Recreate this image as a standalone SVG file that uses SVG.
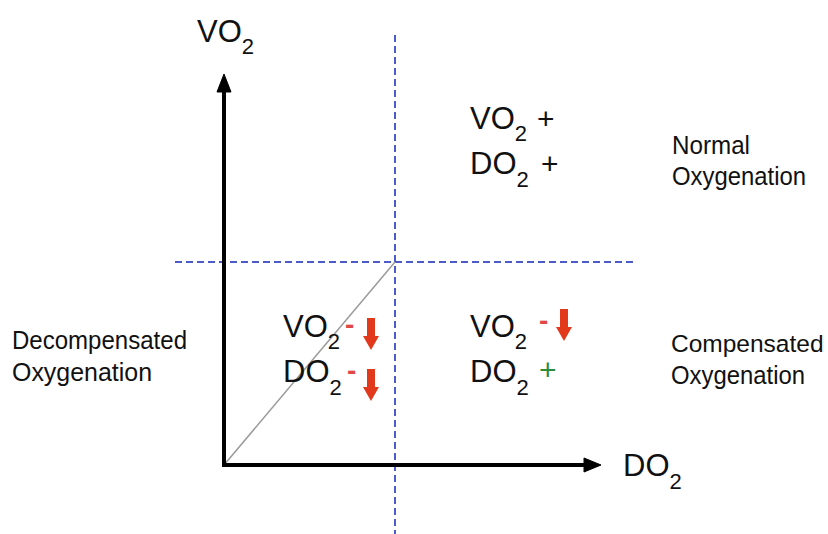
<svg xmlns="http://www.w3.org/2000/svg" width="828" height="534" viewBox="0 0 828 534">
<style>
.t{font-family:"Liberation Sans",Arial,sans-serif;fill:#111}
.big{font-size:31px}
.sub{font-size:22px}
.lbl{font-size:26px}
.dash{stroke:#4b5bc9;stroke-width:2;stroke-dasharray:7 4;fill:none}
.axis{stroke:#000;stroke-width:4;fill:none}
.red{fill:#e2381c}
.minus{fill:#e04848;font-size:28px;font-weight:bold}
.plus{font-size:30px}
</style>
<defs>
<path id="rarrow" d="M-4,0 H4 V18 H8 L0,32 L-8,18 H-4 Z"/>
</defs>
<rect width="828" height="534" fill="#fff"/>
<g id="connectors">
<line class="dash" x1="175" y1="262" x2="636" y2="262"/>
<line class="dash" x1="395" y1="35" x2="395" y2="534"/>
<line x1="224" y1="465" x2="395" y2="262" stroke="#9a9a9a" stroke-width="1.5"/>
<path class="axis" d="M224,467 V82"/>
<path d="M224,74 L217,92 L231,92 Z" fill="#000" stroke="#000" stroke-width="1"/>
<path class="axis" d="M222,465 H592"/>
<path d="M601,465 L584,458 L584,472 Z" fill="#000" stroke="#000" stroke-width="1"/>
</g>
<g id="axis-y-label"><text class="t big" x="197" y="42">VO<tspan class="sub" dy="12">2</tspan></text></g>
<g id="axis-x-label"><text class="t big" x="623" y="476">DO<tspan class="sub" dy="13">2</tspan></text></g>
<g id="quadrant-normal">
<text class="t big" x="470" y="129">VO<tspan class="sub" dy="12">2</tspan></text>
<text class="t plus" x="537" y="129">+</text>
<text class="t big" x="470" y="174">DO<tspan class="sub" dy="13">2</tspan></text>
<text class="t plus" x="541" y="174">+</text>
</g>
<g id="quadrant-decompensated">
<text class="t big" x="283" y="337">VO<tspan class="sub" dy="12">2</tspan></text>
<text class="t minus" x="345" y="334">-</text>
<use href="#rarrow" class="red" x="371" y="318"/>
<text class="t big" x="283" y="382">DO<tspan class="sub" dy="13">2</tspan></text>
<text class="t minus" x="347" y="380">-</text>
<use href="#rarrow" class="red" x="371" y="369"/>
</g>
<g id="quadrant-compensated">
<text class="t big" x="470" y="337">VO<tspan class="sub" dy="12">2</tspan></text>
<text class="t minus" x="539" y="330">-</text>
<use href="#rarrow" class="red" x="564" y="309"/>
<text class="t big" x="470" y="382">DO<tspan class="sub" dy="13">2</tspan></text>
<text class="t plus" x="539" y="380" style="fill:#2e8b3c">+</text>
</g>
<g id="label-normal">
<text class="t lbl" x="672" y="154" textLength="78" lengthAdjust="spacingAndGlyphs">Normal</text>
<text class="t lbl" x="672" y="185" textLength="134" lengthAdjust="spacingAndGlyphs">Oxygenation</text>
</g>
<g id="label-decompensated">
<text class="t lbl" x="12" y="349" textLength="175" lengthAdjust="spacingAndGlyphs">Decompensated</text>
<text class="t lbl" x="12" y="381" textLength="140" lengthAdjust="spacingAndGlyphs">Oxygenation</text>
</g>
<g id="label-compensated">
<text class="t" x="671" y="352" style="font-size:24.5px">Compensated</text>
<text class="t lbl" x="671" y="384" textLength="134" lengthAdjust="spacingAndGlyphs">Oxygenation</text>
</g>
</svg>
